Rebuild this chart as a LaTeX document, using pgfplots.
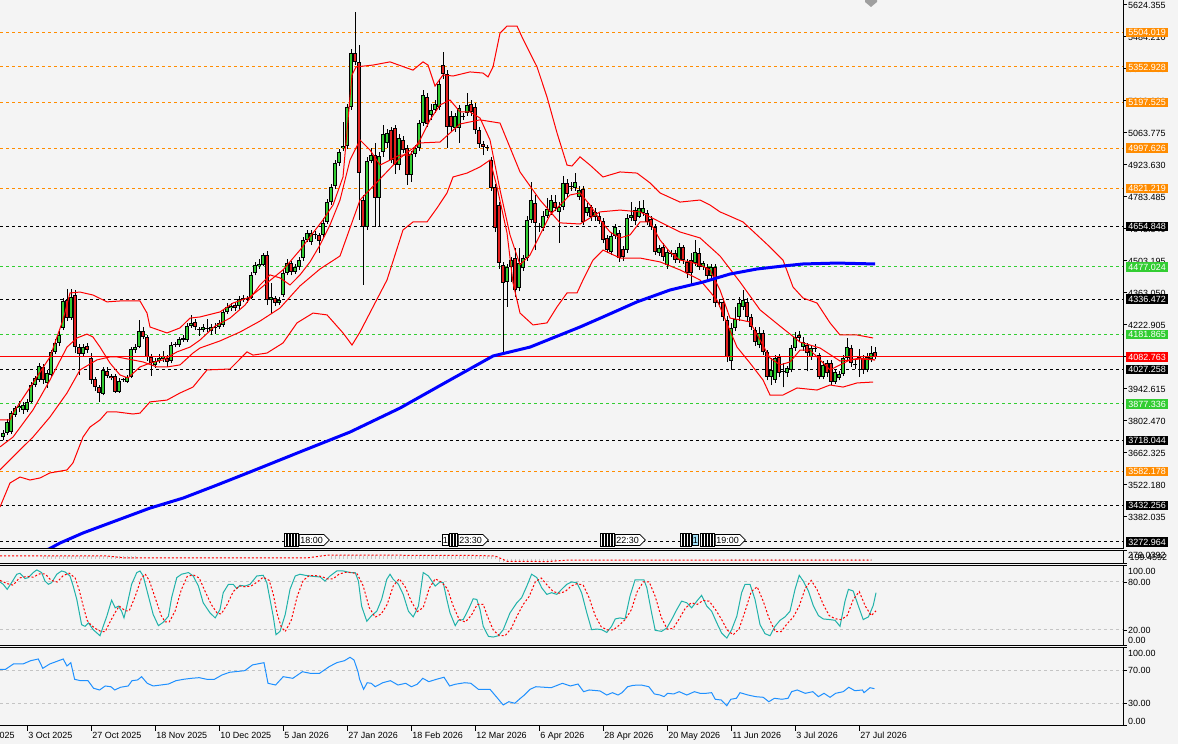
\documentclass[border=0pt]{standalone}
\usepackage{pgfplots}
\pgfplotsset{compat=1.18}
\usepackage{pgfplotstable}
\usepackage{fontspec}
\setmainfont{Liberation Sans}
\usetikzlibrary{shapes.symbols}
\definecolor{bg}{HTML}{F4F4F4}
\definecolor{upc}{HTML}{32CD32}
\definecolor{dnc}{HTML}{E42020}
\definecolor{lvor}{HTML}{FF8C00}
\definecolor{lvgr}{HTML}{32CD32}
\definecolor{stm}{HTML}{20B2AA}
\definecolor{rsic}{HTML}{1E90FF}
\definecolor{lvg}{HTML}{C4C4C4}
\newcommand\lf{\fontsize{9}{10.8}\selectfont}

\pgfplotstableread{
i o h l c
-6 3734 3765 3718 3751
-5 3751 3810 3740 3799
-4 3756 3845 3745 3836
-3 3829 3870 3820 3858
-2 3859 3890 3840 3868
-1 3851 3885 3835 3873
0 3851 3900 3840 3887
1 3887 3972 3880 3960
2 3960 4000 3950 3989
3 3982 4058 3975 4043
5 3969 4026 3947 4011
6 4004 4115 3995 4106
7 4106 4160 4095 4143
8 4144 4195 4130 4179
9 4210 4340 4200 4329
11 4253 4380 4245 4347
14 4096 4140 4085 4126
19 3921 4040 3915 4026
23 3931 3990 3925 3978
24 3982 3990 3975 3984
25 3975 4005 3968 3996
26 3996 4125 3990 4116
27 4113 4140 4100 4128
28 4128 4245 4120 4197
32 4048 4080 4035 4065
33 4065 4095 4055 4080
34 4074 4110 4060 4087
36 4065 4150 4055 4135
37 4136 4150 4125 4138
38 4135 4170 4128 4160
39 4157 4180 4150 4165
40 4157 4230 4150 4218
41 4218 4267 4210 4233
44 4201 4225 4190 4213
46 4197 4225 4180 4213
48 4214 4245 4205 4233
49 4223 4295 4215 4281
50 4280 4320 4270 4300
51 4297 4320 4285 4306
53 4306 4350 4290 4335
54 4332 4355 4325 4340
56 4341 4455 4335 4442
57 4449 4500 4440 4486
58 4481 4510 4470 4490
59 4486 4540 4480 4529
61 4332 4407 4275 4346
63 4319 4345 4310 4332
64 4354 4465 4345 4451
65 4451 4510 4440 4494
67 4455 4490 4445 4477
68 4477 4520 4465 4507
69 4516 4610 4505 4595
70 4595 4640 4585 4626
71 4586 4640 4575 4626
74 4617 4690 4605 4670
75 4674 4775 4665 4761
76 4761 4840 4750 4827
77 4831 4945 4820 4932
78 4932 4995 4920 4980
79 4998 5112 4985 5007
80 5007 5190 4995 5177
81 5177 5430 5165 5414
85 4652 4960 4640 4941
86 4941 5000 4930 4967
88 4779 4980 4652 4963
89 4980 5100 4960 5059
90 5020 5080 5000 5063
93 4924 5060 4900 5042
96 4880 4985 4850 4972
97 4972 5010 4960 4998
98 4998 5120 4985 5107
99 5107 5252 5095 5230
101 5142 5190 5120 5164
102 5164 5210 5150 5191
103 5177 5300 5165 5278
107 5086 5150 5070 5138
108 5086 5185 5020 5173
110 5151 5239 5140 5186
120 4411 4490 4302 4477
121 4477 4520 4410 4507
123 4385 4560 4370 4494
124 4472 4530 4460 4516
125 4516 4700 4505 4683
126 4683 4849 4670 4770
129 4648 4720 4635 4700
130 4700 4780 4690 4731
131 4718 4790 4705 4770
133 4718 4760 4582 4740
134 4740 4875 4725 4845
137 4823 4888 4810 4849
138 4783 4830 4770 4814
140 4715 4755 4700 4738
142 4697 4735 4680 4719
146 4544 4625 4530 4613
147 4613 4665 4600 4653
150 4551 4710 4540 4690
151 4691 4761 4680 4704
153 4697 4765 4690 4734
154 4713 4770 4700 4734
158 4537 4575 4525 4559
160 4486 4555 4470 4544
163 4507 4580 4495 4566
167 4493 4595 4480 4544
169 4478 4505 4465 4493
171 4437 4490 4420 4478
176 4066 4230 4026 4208
177 4208 4300 4195 4250
178 4259 4345 4240 4318
179 4303 4376 4290 4332
183 4135 4214 4120 4189
186 3996 4080 3960 4026
187 3982 4090 3970 4077
190 4011 4045 3995 4033
191 4026 4135 4015 4121
192 4121 4190 4110 4172
194 4128 4170 4110 4150
196 4084 4135 4070 4121
199 3996 4065 3985 4048
202 3975 4030 3965 4018
203 3989 4020 3980 4008
204 4008 4090 4000 4077
205 4077 4166 4065 4128
210 4026 4100 4015 4084
211 4074 4130 4060 4099
}\upT

\pgfplotstableread{
i o h l c
4 4039 4050 3965 3982
10 4332 4380 4240 4252
12 4354 4376 4100 4128
13 4126 4140 4005 4096
15 4131 4145 4100 4113
16 4078 4100 3965 3982
17 3986 3995 3935 3950
18 3953 3960 3887 3926
20 4023 4040 3990 4000
21 4000 4010 3980 3989
22 4000 4010 3925 3931
29 4197 4215 4160 4169
30 4169 4180 4065 4084
31 4083 4095 4000 4056
35 4078 4090 4040 4062
42 4236 4250 4200 4214
43 4206 4215 4175 4203
45 4206 4250 4190 4204
47 4210 4230 4185 4208
52 4310 4325 4285 4296
55 4337 4350 4320 4335
60 4529 4545 4310 4332
62 4341 4350 4305 4318
66 4494 4505 4440 4455
72 4621 4635 4600 4617
73 4617 4625 4540 4591
82 5414 5593 5360 5375
83 5375 5449 4683 4888
84 4770 4790 4398 4652
87 4967 5020 4652 4779
91 5077 5090 4930 4945
92 5086 5100 4885 4924
94 5033 5050 4975 4989
95 4998 5010 4836 4880
100 5221 5240 5090 5103
104 5361 5418 5300 5322
105 5322 5340 4998 5090
106 5138 5160 5070 5090
109 5138 5150 5120 5134
111 5191 5210 5140 5156
112 5177 5195 5060 5077
113 5077 5090 5000 5015
114 5015 5030 4967 5002
115 5002 5010 4985 4999
116 4945 4960 4810 4823
117 4827 4840 4630 4648
118 4748 4760 4470 4494
119 4486 4500 4091 4407
122 4516 4560 4345 4376
127 4757 4790 4551 4670
128 4655 4670 4630 4650
132 4761 4790 4720 4735
135 4845 4860 4780 4797
136 4831 4850 4810 4826
139 4818 4830 4660 4675
141 4738 4750 4680 4697
143 4700 4715 4665 4680
144 4680 4690 4580 4595
145 4604 4615 4540 4551
148 4626 4640 4500 4515
149 4556 4570 4505 4522
152 4726 4740 4660 4680
155 4713 4725 4660 4675
156 4687 4700 4640 4653
157 4653 4665 4530 4544
159 4566 4580 4505 4522
161 4539 4550 4520 4535
162 4537 4550 4495 4507
164 4566 4575 4490 4507
165 4500 4510 4430 4449
166 4507 4540 4400 4449
168 4537 4560 4465 4478
170 4478 4490 4420 4437
172 4478 4490 4300 4318
173 4325 4335 4300 4318
174 4325 4340 4240 4259
175 4245 4260 4060 4084
180 4325 4340 4240 4259
181 4259 4270 4200 4215
182 4201 4215 4130 4150
184 4189 4200 4090 4106
185 4106 4115 3980 3996
188 4084 4095 3995 4014
189 4020 4056 3950 4016
193 4179 4195 4150 4165
195 4135 4144 4020 4099
197 4123 4140 4105 4119
198 4091 4100 3985 3996
200 4055 4070 3995 4011
201 4055 4070 3960 3975
206 4121 4135 4040 4055
207 4050 4070 4030 4046
208 4083 4118 3995 4079
209 4077 4090 4010 4026
212 4106 4125 4075 4083
}\dnT

\pgfplotsset{
 panel/.style={anchor=north west, scale only axis, width=1123bp, xmin=-6.8, xmax=273.95,
   axis line style={draw=none}, clip mode=individual, xtick=\empty, ytick=\empty},
}
\tikzset{
 lvl/.style={line width=1bp, dash pattern=on 3bp off 3bp, #1},
 lab/.style={anchor=west, fill=#1, text=white, font=\lf, inner xsep=2.2bp, inner ysep=1.4bp, text height=6.5bp, text depth=0bp},
}

\begin{document}
\begin{tikzpicture}[x=1bp,y=1bp]
\useasboundingbox (0,0) rectangle (1178,744);
\fill[bg] (0,0) rectangle (1178,744);

% ---------------- main price panel ----------------
\begin{axis}[panel, at={(0bp,744bp)}, height=549bp, ymin=3241.9, ymax=5646,
  ytick={5624.355,5484.210,5344.065,5203.920,5063.775,4923.630,4783.485,4643.340,4503.195,4363.050,4222.905,4082.760,3942.615,3802.470,3662.325,3522.180,3382.035},
  yticklabels={5624.355,5484.210,5344.065,5203.920,5063.775,4923.630,4783.485,4643.340,4503.195,4363.050,4222.905,4082.760,3942.615,3802.470,3662.325,3522.180,3382.035},
  ytick pos=right, yticklabel pos=right, tick align=outside, major tick length=4bp,
  y tick style={black, line width=1bp},
  yticklabel style={font=\lf, inner sep=1bp, anchor=west}]

% horizontal levels
\addplot[lvl=lvor] coordinates {(-6.8,5504.019) (273.95,5504.019)};
\addplot[lvl=lvor] coordinates {(-6.8,5352.928) (273.95,5352.928)};
\addplot[lvl=lvor] coordinates {(-6.8,5197.525) (273.95,5197.525)};
\addplot[lvl=lvor] coordinates {(-6.8,4997.626) (273.95,4997.626)};
\addplot[lvl=lvor] coordinates {(-6.8,4821.219) (273.95,4821.219)};
\addplot[lvl=black] coordinates {(-6.8,4654.848) (273.95,4654.848)};
\addplot[lvl=lvgr] coordinates {(-6.8,4477.024) (273.95,4477.024)};
\addplot[lvl=black] coordinates {(-6.8,4336.472) (273.95,4336.472)};
\addplot[lvl=lvgr] coordinates {(-6.8,4181.865) (273.95,4181.865)};
\addplot[lvl=black] coordinates {(-6.8,4027.258) (273.95,4027.258)};
\addplot[lvl=lvgr] coordinates {(-6.8,3877.336) (273.95,3877.336)};
\addplot[lvl=black] coordinates {(-6.8,3718.044) (273.95,3718.044)};
\addplot[lvl=lvor] coordinates {(-6.8,3582.178) (273.95,3582.178)};
\addplot[lvl=black] coordinates {(-6.8,3432.256) (273.95,3432.256)};
\addplot[lvl=black] coordinates {(-6.8,3272.964) (273.95,3272.964)};

% candles: wicks
\addplot[draw=none, mark=none, error bars/.cd, y dir=plus, y explicit, error mark=none,
  error bar style={draw=black, solid, line width=1bp}]
  table[x=i, y=l, y error expr=\thisrow{h}-\thisrow{l}] {\upT};
\addplot[draw=none, mark=none, error bars/.cd, y dir=plus, y explicit, error mark=none,
  error bar style={draw=black, solid, line width=1bp}]
  table[x=i, y=l, y error expr=\thisrow{h}-\thisrow{l}] {\dnT};
% candles: bodies (outline, then fill)
\addplot[draw=none, mark=none, error bars/.cd, y dir=plus, y explicit, error mark=none,
  error bar style={draw=black, solid, line width=3.6bp}]
  table[x=i, y=o, y error expr={max(\thisrow{c}-\thisrow{o},4.4)}] {\upT};
\addplot[draw=none, mark=none, error bars/.cd, y dir=plus, y explicit, error mark=none,
  error bar style={draw=upc, solid, line width=1.6bp}]
  table[x=i, y expr=\thisrow{o}+4.4, y error expr={max(\thisrow{c}-\thisrow{o}-8.8,0)}] {\upT};
\addplot[draw=none, mark=none, error bars/.cd, y dir=plus, y explicit, error mark=none,
  error bar style={draw=black, solid, line width=3.6bp}]
  table[x=i, y=c, y error expr={max(\thisrow{o}-\thisrow{c},4.4)}] {\dnT};
\addplot[draw=none, mark=none, error bars/.cd, y dir=plus, y explicit, error mark=none,
  error bar style={draw=dnc, solid, line width=1.6bp}]
  table[x=i, y expr=\thisrow{c}+4.4, y error expr={max(\thisrow{o}-\thisrow{c}-8.8,0)}] {\dnT};

% current price line
\addplot[red, line width=1bp] coordinates {(-6.8,4082.763) (273.95,4082.763)};

% Bollinger upper
\addplot[red, line width=1bp] coordinates {(-6.8,3807) (-4.3,3807) (-3.55,3837) (1.45,3969) (5.7,4083) (8.95,4245) (10.7,4363) (13.2,4367) (16.45,4354) (19.95,4324) (23.2,4328) (28.2,4328) (29.95,4275) (30.7,4214) (34.95,4188) (38.2,4210) (40.7,4253) (43.2,4258) (48.2,4280) (51.45,4319) (55.7,4345) (59.95,4407) (63.95,4464) (68.2,4551) (71.45,4626) (73.95,4683) (76.45,4748) (78.95,4871) (80.2,5121) (81.2,5318) (82.2,5353) (86.45,5361) (90.7,5375) (94.95,5348) (96.45,5339) (98.95,5375) (100.2,5361) (101.95,5269) (103.95,5318) (106.45,5313) (110.7,5331) (113.95,5326) (115.2,5309) (116.45,5353) (118.2,5501) (119.95,5532) (122.45,5532) (123.7,5484) (124.95,5440) (127.45,5353) (129.95,5221) (132.45,5064) (134.95,4923) (136.2,4919) (138.2,4959) (140.7,4923) (143.95,4871) (148.2,4893) (152.45,4888) (155.7,4845) (158.2,4801) (163.2,4761) (168.2,4770) (170.7,4748) (173.2,4718) (174.95,4705) (178.95,4674) (182.45,4617) (185.7,4564) (188.95,4507) (191.45,4389) (193.95,4341) (197.45,4319) (200.7,4232) (203.2,4179) (207.45,4179) (211.45,4166)};
% Bollinger lower
\addplot[red, line width=1bp] coordinates {(-6.8,3426) (-4.3,3531) (-1.8,3557) (0.7,3544) (3.2,3553) (5.7,3575) (9.95,3588) (11.45,3619) (13.95,3732) (15.7,3776) (18.2,3807) (19.95,3842) (22.45,3842) (26.45,3833) (28.2,3837) (30.7,3886) (34.95,3894) (38.2,3925) (41.45,3951) (44.95,4026) (50.7,4030) (54.95,4105) (56.45,4091) (59.95,4100) (63.95,4144) (67.45,4232) (71.45,4275) (74.95,4267) (78.95,4188) (81.2,4135) (83.2,4192) (86.45,4302) (89.95,4420) (93.95,4639) (96.45,4674) (99.95,4674) (102.45,4735) (104.95,4801) (106.45,4871) (109.95,4888) (113.2,4915) (115.7,4945) (117.45,4827) (119.95,4626) (121.45,4407) (123.2,4275) (126.45,4223) (129.95,4232) (132.45,4302) (134.95,4363) (137.45,4363) (138.95,4420) (141.45,4507) (143.95,4551) (148.2,4516) (153.2,4516) (158.2,4499) (163.2,4464) (168.2,4420) (172.45,4332) (177.45,4126) (180.7,4056) (183.95,3982) (185.7,3916) (188.95,3916) (192.45,3947) (197.45,3938) (200.7,3960) (203.95,3951) (207.45,3969) (211.45,3973)};
% fast average
\addplot[red, line width=1bp] coordinates {(-6.8,3689) (-3.55,3732) (1.45,3851) (5.7,3982) (9.95,4126) (12.45,4166) (14.95,4183) (16.45,4170) (18.2,4126) (20.7,4056) (23.2,4004) (25.2,3991) (28.2,4039) (30.7,4056) (33.95,4070) (37.45,4105) (40.7,4126) (43.2,4157) (46.95,4218) (50.7,4253) (54.45,4310) (58.2,4398) (60.7,4442) (63.2,4429) (65.7,4398) (68.2,4442) (70.7,4499) (73.2,4573) (75.7,4661) (78.2,4770) (80.7,4945) (83.2,5033) (85.7,4989) (88.2,4923) (90.7,4945) (93.2,4967) (95.7,4967) (98.2,5033) (100.7,5121) (103.2,5186) (105.7,5208) (108.2,5156) (110.7,5156) (113.2,5129) (115.7,5033) (118.2,4814) (120.7,4617) (123.2,4486) (125.7,4529) (128.2,4617) (130.7,4705) (133.2,4748) (135.7,4792) (138.2,4801) (140.7,4748) (143.2,4683) (145.7,4630) (148.2,4604) (150.7,4617) (153.2,4674) (155.7,4674) (158.2,4595) (160.7,4542) (163.2,4507) (165.7,4499) (168.2,4486) (170.7,4464) (173.2,4376) (175.7,4253) (178.2,4245) (180.7,4236) (183.2,4157) (185.7,4078) (188.2,4048) (190.7,4061) (193.2,4113) (195.7,4113) (198.2,4070) (200.7,4026) (203.2,4048) (205.7,4070) (208.2,4078) (211.95,4070)};
% middle band
\addplot[red, line width=1bp] coordinates {(-6.8,3588) (-1.8,3676) (1.45,3732) (5.7,3820) (9.95,3925) (13.2,4026) (17.45,4070) (20.7,4083) (22.45,4083) (28.95,4061) (32.45,4039) (34.95,4039) (38.2,4048) (41.45,4100) (43.2,4122) (48.2,4153) (53.2,4192) (58.2,4240) (63.2,4297) (68.2,4394) (73.2,4468) (78.2,4525) (83.2,4770) (88.2,4862) (93.2,4954) (98.2,5020) (103.2,5024) (108.2,5103) (113.2,5121) (118.2,5107) (123.2,4893) (128.2,4770) (133.2,4670) (138.2,4665) (143.2,4718) (148.2,4726) (153.2,4718) (158.2,4674) (163.2,4630) (168.2,4604) (173.2,4525) (178.2,4411) (183.2,4289) (188.2,4218) (193.2,4148) (198.2,4122) (203.2,4065) (208.2,4074) (211.95,4070)};
% long moving average (blue)
\addplot[blue, line width=3bp] coordinates {(0.7,3211) (5.45,3242) (8.2,3268) (13.95,3312) (20.7,3356) (30.7,3421) (39.0,3465) (47.45,3522) (55.7,3579) (68.2,3667) (80.7,3754) (93.2,3859) (105.7,3982) (116.45,4087) (125.7,4126) (138.2,4214) (143.95,4258) (152.45,4324) (160.7,4376) (169.0,4411) (175.7,4446) (182.45,4468) (188.95,4481) (193.95,4490) (202.45,4494) (211.95,4490)};

% right-hand level labels
\node[lab=lvor] at (axis cs:274.7,5504.019) {5504.019};
\node[lab=lvor] at (axis cs:274.7,5352.928) {5352.928};
\node[lab=lvor] at (axis cs:274.7,5197.525) {5197.525};
\node[lab=lvor] at (axis cs:274.7,4997.626) {4997.626};
\node[lab=lvor] at (axis cs:274.7,4821.219) {4821.219};
\node[lab=black] at (axis cs:274.7,4654.848) {4654.848};
\node[lab=lvgr] at (axis cs:274.7,4477.024) {4477.024};
\node[lab=black] at (axis cs:274.7,4336.472) {4336.472};
\node[lab=lvgr] at (axis cs:274.7,4181.865) {4181.865};
\node[lab=red] at (axis cs:274.7,4082.763) {4082.763};
\node[lab=black] at (axis cs:274.7,4027.258) {4027.258};
\node[lab=lvgr] at (axis cs:274.7,3877.336) {3877.336};
\node[lab=black] at (axis cs:274.7,3718.044) {3718.044};
\node[lab=lvor] at (axis cs:274.7,3582.178) {3582.178};
\node[lab=black] at (axis cs:274.7,3432.256) {3432.256};
\node[lab=black] at (axis cs:274.7,3272.964) {3272.964};
\end{axis}

% ---------------- small oscillator panel ----------------
\begin{axis}[panel, at={(0bp,193bp)}, height=13bp, ymin=-199.4592, ymax=279.0392]
\addplot[ycomb, mark=none, lvg, line width=1bp] coordinates {(4,90) (5,95) (6,100) (7,105) (8,110) (9,110) (10,105) (11,100) (12,95) (13,95) (14,100) (15,100) (16,95) (17,90) (18,90) (19,95) (20,100) (21,100) (22,95) (23,90) (24,90) (25,95) (26,100) (27,95)
 (76,110) (77,115) (78,120) (79,120) (80,125) (81,125) (82,120) (83,115) (84,110) (85,110) (86,115) (87,115) (88,110) (89,110) (90,115) (91,115) (92,110) (93,110) (94,115) (95,115) (96,110) (97,110) (98,115) (99,120) (100,120) (101,115) (102,115) (103,120) (104,120) (105,115) (106,110) (107,110) (108,110) (109,105) (110,105) (111,100) (112,100) (113,95) (114,95) (115,90) (116,85) (117,80)
 (118,-110) (119,-120) (120,-125) (121,-125) (122,-120) (123,-120) (124,-115) (125,-115) (126,-110) (127,-110) (128,-105) (129,-105) (130,-100) (131,-100) (132,-95)
 (176,-90) (177,-95) (178,-95) (179,-100) (180,-100) (181,-105) (182,-105) (183,-100) (184,-100) (185,-105) (186,-105) (187,-100) (188,-100) (189,-95) (190,-95) (191,-100) (192,-100) (193,-95) (194,-95) (195,-100) (196,-100) (197,-95) (198,-95) (199,-100) (200,-100) (201,-105) (202,-100) (203,-100) (204,-95) (205,-95) (206,-100) (207,-100) (208,-95) (209,-95) (210,-100) (211,-100)};
\addplot[red, line width=1bp, dash pattern=on 2bp off 2bp] coordinates {(-6.8,95) (20,95) (24,30) (70,25) (75,125) (110,120) (117,95) (120,-100) (130,-110) (135,-60) (211,-55)};
\end{axis}

% ---------------- stochastic panel ----------------
\begin{axis}[panel, at={(0bp,178bp)}, height=80bp, ymin=0, ymax=100]
\addplot[lvl=lvg] coordinates {(-6.8,80) (273.95,80)};
\addplot[lvl=lvg] coordinates {(-6.8,20) (273.95,20)};
\addplot[stm, line width=1bp] coordinates {(-6.8,80.0) (-6.0,77.1) (-5.0,70.8) (-3.9,79.2) (-2.6,89.7) (-1.8,90.9) (-0.55,84.3) (0.3,85.5) (1.5,91.8) (2.4,95.1) (3.6,91.8) (4.45,81.2) (5.3,77.1) (6.1,79.2) (7.4,89.7) (8.6,93.8) (9.45,92.6) (10.7,87.5) (11.5,74.9) (12.4,58.2) (13.6,26.7) (14.45,24.6) (15.3,28.8) (16.5,20.4) (18.2,12.8) (19.0,24.6) (19.9,37.2) (21.1,57.3) (22.0,47.7) (22.8,49.8) (23.6,43.5) (24.2,35.1) (24.9,49.8) (26.1,77.1) (27.4,91.8) (28.2,93.8) (29.0,87.5) (30.3,62.4) (31.5,39.3) (32.8,25.4) (34.0,29.6) (35.3,37.2) (36.1,60.3) (37.4,85.5) (38.6,89.7) (40.3,91.8) (41.5,87.5) (42.8,74.9) (44.0,54.0) (45.7,41.4) (47.0,35.1) (48.2,45.6) (49.0,66.6) (50.3,77.1) (51.5,77.1) (52.4,71.7) (53.2,75.8) (54.45,74.9) (55.7,77.1) (57.4,87.5) (59.0,88.4) (59.9,79.2) (60.7,58.2) (61.5,37.2) (62.2,14.1) (63.2,18.3) (64.5,39.3) (65.7,70.8) (67.0,87.5) (68.2,89.7) (69.45,88.4) (70.7,87.5) (72.0,86.8) (73.2,86.3) (74.45,81.2) (75.7,87.5) (77.4,93.8) (79.0,93.8) (80.7,91.8) (82.0,91.8) (82.8,81.2) (83.6,49.8) (84.9,30.9) (86.1,38.0) (87.4,43.5) (88.6,58.2) (89.9,83.4) (90.7,89.7) (91.5,83.4) (92.8,77.1) (94.0,64.5) (95.3,43.5) (96.5,36.4) (97.8,49.8) (99.0,91.8) (100.3,87.5) (102.0,74.9) (103.2,80.0) (104.0,79.2) (104.9,58.2) (105.7,41.4) (107.0,25.4) (107.8,32.1) (109.0,33.0) (110.3,45.6) (111.5,59.0) (112.4,58.2) (113.2,45.6) (114.0,24.6) (115.3,12.0) (116.5,11.2) (117.8,12.8) (119.0,20.4) (120.7,41.4) (122.4,54.0) (123.6,60.3) (124.9,74.9) (126.1,89.7) (127.4,85.5) (128.6,72.9) (129.9,64.5) (131.1,66.6) (132.4,64.5) (133.6,70.8) (134.9,77.1) (136.1,80.0) (137.4,79.2) (138.6,66.6) (139.9,41.4) (141.1,20.4) (142.4,21.2) (143.6,20.4) (144.9,17.0) (146.1,24.6) (147.0,33.8) (148.2,35.1) (149.45,33.8) (150.7,62.4) (151.95,82.5) (153.2,82.5) (154.2,82.5) (154.9,72.9) (156.1,41.4) (157.0,19.6) (158.6,18.3) (159.9,22.5) (161.1,33.0) (162.4,45.6) (163.6,56.1) (164.9,54.0) (166.1,47.7) (167.4,56.1) (168.6,63.3) (169.9,49.8) (171.1,43.5) (172.4,28.8) (173.6,16.2) (174.9,9.9) (176.1,20.4) (177.4,37.2) (178.6,66.6) (179.45,77.1) (180.7,77.1) (181.95,58.2) (183.2,26.7) (184.45,15.4) (185.7,12.8) (186.95,24.6) (188.2,32.1) (189.45,36.4) (190.7,43.5) (191.95,70.8) (193.0,88.4) (194.0,81.2) (195.3,68.7) (196.5,50.6) (197.8,38.0) (199.0,33.8) (200.7,33.0) (201.95,32.1) (203.2,24.6) (204.45,56.1) (205.3,70.8) (206.5,68.7) (207.8,49.8) (209.0,33.0) (210.3,36.4) (211.5,50.6) (212.2,66.6)};
\addplot[red, line width=1bp, dash pattern=on 2bp off 2bp] coordinates {(-6.8,82) (-5,78) (-3.5,76) (-2,85) (0,87) (1.5,86) (3,90) (4.5,90) (6,82) (7.5,80) (9,88) (10.5,91) (12,85) (13,70) (14,50) (15,32) (16,26) (17,22) (18.5,18) (19.5,18) (20.5,28) (22,42) (23,50) (24.5,44) (25.5,44) (27,62) (28.5,84) (29.5,90) (30.5,82) (32,60) (33.5,38) (34.5,30) (35.5,30) (37,44) (38.5,70) (40,87) (41.5,89) (43,85) (44.5,68) (46,52) (47.5,41) (48.5,40) (50,52) (51.5,68) (53,75) (54.5,74) (56,75) (57.5,80) (59,86) (60.5,82) (61.5,65) (62.5,40) (63.5,24) (64.5,18) (66,32) (67.5,62) (69,82) (70.5,88) (72,88) (73.5,87) (75,84) (76.5,84) (78,90) (79.5,92) (81,92) (82.5,90) (84,75) (85.5,48) (87,36) (88.5,40) (90,52) (91.5,75) (93,84) (94.5,74) (96,56) (97.5,43) (99,48) (100.5,72) (102,84) (103.5,80) (105,72) (106.5,50) (108,33) (109.5,30) (111,38) (112.5,52) (114,52) (115,38) (116.5,20) (118,13) (119.5,13) (121,22) (122.5,38) (124,52) (125.5,62) (127,80) (128.5,85) (130,76) (131.5,68) (133,66) (134.5,68) (136,75) (137.5,78) (139,76) (140.5,60) (142,38) (143.5,24) (145,20) (146.5,20) (148,26) (149.5,33) (151,45) (152.5,68) (154,80) (155.5,80) (157,62) (158.5,36) (160,21) (161.5,22) (163,34) (164.5,47) (166,54) (167.5,52) (169,57) (170.5,56) (172,46) (173.5,34) (175,20) (176.5,14) (178,22) (179.5,44) (181,68) (182.5,74) (184,56) (185.5,34) (187,18) (188.5,18) (190,28) (191.5,36) (193,50) (194.5,72) (196,82) (197.5,70) (199,52) (200.5,38) (202,34) (203.5,33) (205,38) (206.5,58) (208,68) (209.5,50) (211,38) (212.2,44)};
\end{axis}

% ---------------- RSI panel ----------------
\begin{axis}[panel, at={(0bp,96bp)}, height=78bp, ymin=2.2, ymax=97.9]
\addplot[lvl=lvg] coordinates {(-6.8,70) (273.95,70)};
\addplot[lvl=lvg] coordinates {(-6.8,30) (273.95,30)};
\addplot[rsic, line width=1bp] coordinates {(-6.8,71.8) (-5.4,71.8) (-3.45,78.3) (-1.06,78.3) (0.85,82.3) (2.77,84.4) (3.9,73.0) (5.64,78.3) (9.0,84.4) (9.94,75.8) (10.9,79.9) (11.86,59.5) (13.3,57.8) (15.2,57.8) (16.6,48.5) (18.1,46.4) (19.5,51.3) (20.9,50.4) (21.9,46.4) (23.3,49.7) (25.25,51.3) (26.2,57.8) (27.6,58.7) (28.6,62.7) (30.0,54.6) (31.5,51.3) (35.3,53.7) (37.2,57.8) (39.1,59.5) (41.0,60.7) (43.0,61.5) (44.9,59.5) (46.8,59.5) (48.7,64.8) (50.6,68.1) (54.4,70.1) (56.3,77.1) (59.2,79.9) (60.2,54.6) (62.1,52.5) (64.0,62.7) (66.4,60.7) (68.8,68.8) (70.7,66.9) (73.1,66.9) (75.5,75.0) (77.4,79.9) (79.3,82.3) (80.7,86.5) (81.7,83.2) (82.7,68.8) (83.1,59.5) (84.1,47.2) (85.0,55.3) (86.0,54.6) (87.0,50.4) (88.9,55.3) (90.8,57.8) (92.7,52.5) (94.6,54.6) (96.05,50.4) (97.5,53.4) (98.9,60.7) (100.4,56.6) (102.3,59.5) (104.2,62.0) (105.6,51.3) (107.0,53.4) (109.4,55.3) (110.9,54.6) (112.8,47.2) (115.7,47.2) (117.6,36.2) (119.0,28.0) (120.4,32.0) (121.9,30.1) (123.3,36.2) (124.3,40.2) (125.7,47.2) (127.15,50.4) (131.0,49.2) (133.8,54.6) (135.8,51.3) (137.7,53.7) (139.1,44.3) (140.5,46.4) (143.2,45.2) (144.9,40.2) (146.3,43.1) (147.7,40.2) (148.7,43.1) (150.1,50.4) (151.5,52.1) (153.5,52.5) (155.4,50.4) (156.8,41.5) (158.2,40.2) (159.2,38.2) (160.1,42.3) (161.6,41.5) (163.0,44.3) (164.9,40.2) (166.8,44.3) (168.2,42.3) (169.7,42.3) (171.1,43.1) (172.0,35.0) (173.5,34.1) (174.9,27.1) (175.9,35.0) (177.3,36.2) (178.2,43.1) (180.2,40.2) (182.1,38.2) (184.0,37.4) (185.4,32.0) (186.8,36.2) (188.7,35.0) (190.2,36.2) (191.1,44.3) (192.5,46.4) (194.5,42.3) (196.4,44.3) (197.8,38.2) (199.2,42.3) (200.7,37.4) (202.1,42.3) (204.0,44.3) (205.4,49.7) (206.9,45.5) (208.8,46.4) (209.2,43.1) (210.7,49.2) (211.8,48.0)};
\end{axis}

% ---------------- frames ----------------
\begin{scope}[line width=1bp, black]
\draw (0,195) -- (1123,195) -- (1123,744);
\draw (0,193) -- (1123,193) -- (1123,180) -- (0,180);
\draw (0,178) -- (1123,178) -- (1123,98) -- (0,98);
\draw (0,96) -- (1123,96) -- (1123,18) -- (0,18);
\draw (1123,193) -- (1127,193); \draw (1123,180) -- (1127,180);
\draw (1123,178) -- (1127,178); \draw (1123,161.3) -- (1127,161.3);
\draw (1123,113.7) -- (1127,113.7); \draw (1123,98) -- (1127,98);
\draw (1123,96) -- (1127,96); \draw (1123,73.3) -- (1127,73.3);
\draw (1123,40.7) -- (1127,40.7); \draw (1123,18) -- (1127,18);
\foreach \x in {27.2,91.2,155.2,219.2,283.2,347.2,411.2,475.2,539.2,603.2,667.2,731.2,795.2,859.2} \draw (\x,18) -- (\x,13);
\end{scope}

% sub-panel scale labels
\begin{scope}[every node/.style={anchor=west, font=\lf, inner sep=1bp}]
\node at (1127,188.2) {279.0392};
\node at (1128.5,186.8) {199.4592};
\node at (1127,172.3) {100.00};
\node at (1127,161.3) {80.00};
\node at (1127,113.7) {20.00};
\node at (1127,104) {0.00};
\node at (1127,90.7) {100.00};
\node at (1127,73.3) {70.00};
\node at (1127,40.7) {30.00};
\node at (1127,23) {0.00};
\end{scope}

% date labels
\begin{scope}[every node/.style={anchor=base west, font=\lf, inner sep=0pt}]
\node at (-35.8,5) {11 Sep 2025};
\node at (28.2,5) {3 Oct 2025};
\node at (92.2,5) {27 Oct 2025};
\node at (156.2,5) {18 Nov 2025};
\node at (220.2,5) {10 Dec 2025};
\node at (284.2,5) {5 Jan 2026};
\node at (348.2,5) {27 Jan 2026};
\node at (412.2,5) {18 Feb 2026};
\node at (476.2,5) {12 Mar 2026};
\node at (540.2,5) {6 Apr 2026};
\node at (604.2,5) {28 Apr 2026};
\node at (668.2,5) {20 May 2026};
\node at (732.2,5) {11 Jun 2026};
\node at (796.2,5) {3 Jul 2026};
\node at (860.2,5) {27 Jul 2026};
\end{scope}

% chart objects near the bottom of the price panel
\begin{scope}[line width=0.7bp]
\foreach \x in {284,287,290,293,296} \draw[fill=white] (\x,198) rectangle ++(2.2,13);
\node[draw, fill=white, signal, signal to=east, font=\lf, inner sep=1bp, anchor=west, minimum height=11bp] at (299,204) {18:00};
\node[draw, fill=white, font=\lf, inner sep=0.6bp, anchor=west, minimum height=11bp] at (442,204) {1};
\foreach \x in {449,452,455} \draw[fill=white] (\x,198) rectangle ++(2.2,13);
\node[draw, fill=white, signal, signal to=east, font=\lf, inner sep=1bp, anchor=west, minimum height=11bp] at (458,204) {23:30};
\foreach \x in {600,603,606,609,612} \draw[fill=white] (\x,198) rectangle ++(2.2,13);
\node[draw, fill=white, signal, signal to=east, font=\lf, inner sep=1bp, anchor=west, minimum height=11bp] at (615,204) {22:30};
\foreach \x in {680,683,686,689} \draw[fill=white] (\x,198) rectangle ++(2.2,13);
\node[draw, fill=cyan!35, font=\lf, inner sep=0.6bp, anchor=west, minimum height=11bp] at (692,204) {1};
\foreach \x in {700,703,706,709,712} \draw[fill=white] (\x,198) rectangle ++(2.2,13);
\node[draw, fill=white, signal, signal to=east, font=\lf, inner sep=1bp, anchor=west, minimum height=11bp] at (715,204) {19:00};
\end{scope}

\fill[gray!75] (865,744) -- (877,744) -- (877,742) -- (871,737) -- (865,742) -- cycle;
\end{tikzpicture}
\end{document}
